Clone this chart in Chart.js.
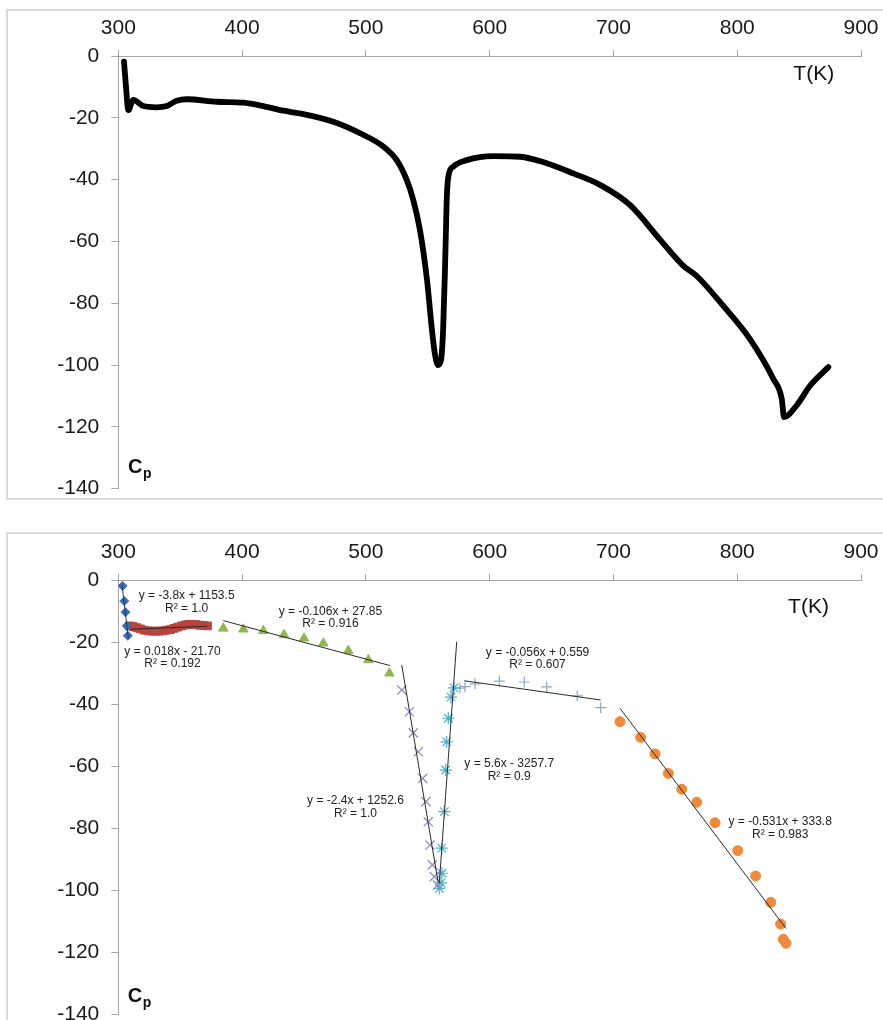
<!DOCTYPE html>
<html><head><meta charset="utf-8">
<script src="https://cdn.jsdelivr.net/npm/chart.js@4.4.1/dist/chart.umd.min.js"></script>
<style>
html,body{margin:0;padding:0;background:#fff;width:883px;height:1020px;overflow:hidden;position:relative;}
.frame{position:absolute;border:2px solid #d9d9d9;box-sizing:border-box;}
canvas{position:absolute;left:0;}
</style></head><body>
<div class="frame" style="left:6px;top:9px;width:890px;height:491px;"></div>
<div class="frame" style="left:6px;top:532px;width:890px;height:520px;"></div>
<canvas id="c1" width="883" height="510" style="top:0px"></canvas>
<canvas id="c2" width="883" height="530" style="top:520px"></canvas>
<script>
// ---------- data: top chart (continuous curve) ----------
const topT  = [304.6,306.2,308.1,312.1,320.2,331.0,339.1,347.2,355.3,379.5,401.0,417.1,433.3,446.8,473.7,495.3,514.1,524.9,533.0,538.3,543.7,549.4,553.4,555.9,558.3,560.7,562.4,563.9,564.7,565.3,566.6,570.6,581.5,603.0,624.5,646.1,667.6,689.2,713.3,737.6,756.5,767.3,788.8,810.3,829.2,836.0,837.8,848.0,858.8,873.6];
const topCp = [-1.8,-9.9,-17.5,-14.2,-16.2,-16.6,-16.2,-14.5,-14.0,-14.8,-15.1,-16.2,-17.7,-18.6,-21.3,-25.0,-29.3,-33.7,-40.1,-46.6,-56.3,-72.5,-88.7,-96.8,-100.0,-98.4,-88.7,-69.3,-56.3,-46.6,-39.1,-35.8,-33.7,-32.4,-32.6,-34.7,-38.0,-41.7,-48.2,-59.4,-67.9,-71.2,-80.9,-91.6,-104.5,-111.0,-116.9,-113.1,-106.7,-100.7];

// ---------- data: bottom chart (segments) ----------
const diamondT  = [303.5,304.8,305.8,306.9,307.7];
const diamondCp = [-1.9,-6.8,-10.4,-14.8,-18.0];
const squareT  = [309,312,315,318,321,324,327,330,333,336,339,342,345,348,351,354,357,360,363,366,369,372];
const squareCp = [-14.8,-15.0,-15.4,-15.8,-16.2,-16.4,-16.5,-16.5,-16.5,-16.4,-16.2,-16.0,-15.6,-15.2,-14.8,-14.5,-14.3,-14.3,-14.4,-14.6,-14.7,-14.8];
const triangleT  = [384.8,401.0,417.1,433.9,450.0,465.6,485.8,502.0,519.0];
const triangleCp = [-15.6,-15.9,-16.4,-17.7,-18.8,-20.4,-22.8,-25.8,-30.1];
const crossT  = [529.0,535.1,538.3,542.4,545.9,548.6,550.4,551.8,553.7,555.3,558.0];
const crossCp = [-35.5,-42.5,-49.3,-55.4,-64.0,-71.5,-78.0,-85.5,-91.9,-95.7,-98.4];
const starT  = [559.3,560.7,561.5,561.3,563.4,564.5,565.3,566.6,568.8,571.2];
const starCp = [-99.5,-97.7,-94.6,-86.5,-74.7,-61.3,-52.2,-44.6,-37.8,-34.8];
const plusT  = [576.0,580.1,588.2,607.8,628.0,646.1,670.8,689.7];
const plusCp = [-34.9,-34.4,-33.5,-32.6,-32.9,-34.5,-37.4,-41.2];
const circleT  = [705.3,722.0,733.6,744.3,755.2,767.3,782.1,800.4,814.9,827.1,835.1,837.2,839.4];
const circleCp = [-45.7,-50.8,-56.1,-62.4,-67.5,-71.7,-78.3,-87.3,-95.5,-104.0,-111.0,-115.9,-117.2];

// trend line end points
const trendDiamT = [303.0,308.1],   trendDiamCp = [-1.6,-18.7];
const trendSqT   = [310,372],       trendSqCp   = [-15.9,-14.9];
const trendTriT  = [384.8,519.5],   trendTriCp  = [-13.1,-27.6];
const trendXT    = [529.0,558.5],   trendXCp    = [-27.4,-97.8];
const trendStarT = [559.3,573.4],   trendStarCp = [-97.8,-19.9];
const trendPlusT = [579.5,689.7],   trendPlusCp = [-32.5,-38.7];
const trendCircT = [705.3,839.4],   trendCircCp = [-41.4,-112.4];

const eqTexts = ["y = -3.8x + 1153.5","y = 0.018x - 21.70","y = -0.106x + 27.85","y = -2.4x + 1252.6","y = 5.6x - 3257.7","y = -0.056x + 0.559","y = -0.531x + 333.8"];
const r2Texts = ["R\u00B2 = 1.0","R\u00B2 = 0.192","R\u00B2 = 0.916","R\u00B2 = 1.0","R\u00B2 = 0.9","R\u00B2 = 0.607","R\u00B2 = 0.983"];

// tick settings
const xMin = 300, xMax = 900, xStep = 100;
const yMin = -140, yMax = 0, yStep = 20;

// ---------- helpers ----------
const FONT = "'Liberation Sans', Arial, Helvetica, sans-serif";
const pts = (xs, ys) => xs.map((x, i) => ({x: x, y: ys[i]}));

function textPlugin(items) {
  return {
    id: 'txt',
    afterDatasetsDraw(chart) {
      const ctx = chart.ctx, xs = chart.scales.x, ys = chart.scales.y;
      ctx.save();
      ctx.textBaseline = 'middle';
      items.forEach(it => {
        const px = xs.getPixelForValue(it.x), py = ys.getPixelForValue(it.y) + (it.dy || 0);
        if (it.kind === 'cp') {
          ctx.fillStyle = '#111';
          ctx.textAlign = 'left';
          ctx.font = 'bold 20px ' + FONT;
          ctx.fillText('C', px, py);
          const w = ctx.measureText('C').width;
          ctx.font = 'bold 14px ' + FONT;
          ctx.fillText('p', px + w + 0.5, py + 6);
        } else {
          ctx.fillStyle = it.color || '#222';
          ctx.textAlign = 'center';
          ctx.font = it.font;
          ctx.fillText(it.text, px, py);
        }
      });
      ctx.restore();
    }
  };
}

function scales(topH) {
  return {
    x: {
      type: 'linear', position: 'top', min: xMin, max: xMax,
      ticks: {stepSize: xStep, color: '#1a1a1a', font: {family: FONT, size: 21}, padding: 9, maxRotation: 0},
      grid: {display: true, drawOnChartArea: false, drawTicks: true, tickLength: 6, color: '#a6a6a6'},
      border: {display: true, color: '#a6a6a6', width: 1},
      afterFit(s) { s.height = topH; s.paddingLeft = 0; s.paddingRight = 0; }
    },
    y: {
      type: 'linear', position: 'left', min: yMin, max: yMax,
      ticks: {stepSize: yStep, color: '#1a1a1a', font: {family: FONT, size: 21}, padding: 12},
      grid: {display: true, drawOnChartArea: false, drawTicks: true, tickLength: 7, color: '#a6a6a6'},
      border: {display: true, color: '#a6a6a6', width: 1},
      afterFit(s) { s.width = 118.3; s.paddingTop = 0; s.paddingBottom = 0; }
    }
  };
}

// ---------- top chart ----------
new Chart(document.getElementById('c1'), {
  type: 'line',
  data: {
    datasets: [{
      data: pts(topT, topCp),
      borderColor: '#000', borderWidth: 5.8, pointRadius: 0,
      cubicInterpolationMode: 'monotone', fill: false,
      borderCapStyle: 'round', borderJoinStyle: 'round'
    }]
  },
  options: {
    responsive: false, animation: false, devicePixelRatio: 1,
    layout: {padding: {left: 0, right: 22, top: 0, bottom: 21.4}},
    plugins: {legend: {display: false}, tooltip: {enabled: false}},
    scales: scales(56)
  },
  plugins: [textPlugin([
    {text: 'T(K)', x: 861.8, y: -5.8, font: '21px ' + FONT, color: '#111'},
    {kind: 'cp', x: 307.9, y: -133.3}
  ])]
});

// ---------- bottom chart ----------
const trendStyle = {type: 'line', borderColor: '#2a2a2a', borderWidth: 1, pointRadius: 0, fill: false, tension: 0, order: 0};
function sc(xs, ys, style, color, r, bw) {
  return {type: 'scatter', data: pts(xs, ys), pointStyle: style, pointRadius: r, pointBackgroundColor: color,
          pointBorderColor: color, pointBorderWidth: bw, showLine: false, order: 1};
}
const eqPos = [[355.2,-5.1],[343.8,-23.1],[471.4,-10.2],[491.6,-71.3],[615.8,-59.4],[638.7,-23.3],[834.7,-78.0]];
const labelItems = [];
eqTexts.forEach((t, i) => {
  labelItems.push({text: t, x: eqPos[i][0], y: eqPos[i][1], font: '12px ' + FONT, color: '#222'});
  labelItems.push({text: r2Texts[i], x: eqPos[i][0], y: eqPos[i][1], dy: 12.5, font: '12px ' + FONT, color: '#222'});
});
labelItems.push({text: 'T(K)', x: 857.6, y: -8.9, font: '21px ' + FONT, color: '#111'});
labelItems.push({kind: 'cp', x: 307.7, y: -134.5});

new Chart(document.getElementById('c2'), {
  type: 'scatter',
  data: {
    datasets: [
      Object.assign({data: pts(trendDiamT, trendDiamCp)}, trendStyle, {borderColor: '#1f3864'}),
      Object.assign({data: pts(trendSqT, trendSqCp)}, trendStyle),
      Object.assign({data: pts(trendTriT, trendTriCp)}, trendStyle),
      Object.assign({data: pts(trendXT, trendXCp)}, trendStyle),
      Object.assign({data: pts(trendStarT, trendStarCp)}, trendStyle),
      Object.assign({data: pts(trendPlusT, trendPlusCp)}, trendStyle),
      Object.assign({data: pts(trendCircT, trendCircCp)}, trendStyle),
      sc(diamondT, diamondCp, 'rectRot', '#3C6DB0', 4.5, 1),
      sc(squareT, squareCp, 'rect', '#B8443F', 5.5, 1),
      sc(triangleT, triangleCp, 'triangle', '#92B652', 5.5, 1),
      sc(crossT, crossCp, 'crossRot', '#8C8FBA', 6.5, 1.3),
      sc(starT, starCp, 'star', '#4AAFC9', 6, 1.2),
      sc(plusT, plusCp, 'cross', '#8FA6C8', 5.5, 1.2),
      sc(circleT, circleCp, 'circle', '#EE8A3C', 5, 1)
    ]
  },
  options: {
    responsive: false, animation: false, devicePixelRatio: 1,
    layout: {padding: {left: 0, right: 22, top: 0, bottom: 36}},
    plugins: {legend: {display: false}, tooltip: {enabled: false}},
    scales: scales(60)
  },
  plugins: [textPlugin(labelItems)]
});
</script>
</body></html>
